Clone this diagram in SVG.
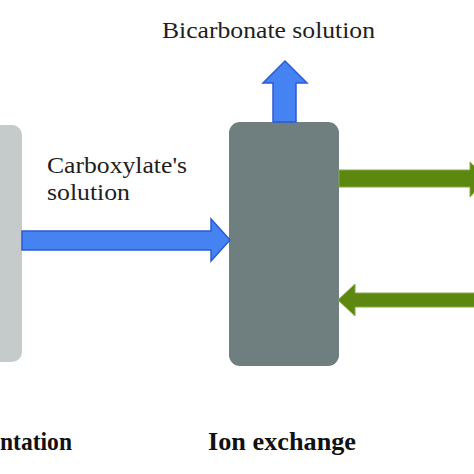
<svg xmlns="http://www.w3.org/2000/svg" width="474" height="474" viewBox="0 0 474 474">
<style>
.lbl{font-family:"Liberation Serif","Times New Roman",serif;fill:#1e1e1e;font-size:23px}
.ttl{font-family:"Liberation Serif","Times New Roman",serif;fill:#111;font-size:25px;font-weight:bold}
.blue{fill:#4683f2;stroke:#2d5ad6;stroke-width:1.5;stroke-linejoin:miter}
.green{fill:#5d880f;stroke:#86a84a;stroke-width:1}
</style>
<rect width="474" height="474" fill="#ffffff"/>
<g id="fermentation">
<rect x="-12" y="125" width="34" height="237" rx="10" fill="#c4cbca"/>
<text class="ttl" x="0" y="450" textLength="72" lengthAdjust="spacingAndGlyphs">ntation</text>
</g>
<g id="ion-exchange">
<rect x="229" y="122" width="110" height="244" rx="11" fill="#6f7f80"/>
<text class="ttl" x="208" y="450" textLength="148" lengthAdjust="spacingAndGlyphs">Ion exchange</text>
</g>
<g id="bicarbonate-label">
<text class="lbl" x="162" y="38" textLength="213" lengthAdjust="spacingAndGlyphs">Bicarbonate solution</text>
</g>
<g id="carboxylate-label">
<text class="lbl" x="47" y="173" textLength="140" lengthAdjust="spacingAndGlyphs">Carboxylate's</text>
<text class="lbl" x="47" y="200" textLength="83" lengthAdjust="spacingAndGlyphs">solution</text>
</g>
<g id="connectors">
<polygon class="blue" points="22,231 211,231 211,219 230,240 211,261 211,250 22,250"/>
<polygon class="blue" points="273,122 273,83 263,83 285,61 307,83 296,83 296,122"/>
<polygon class="green" points="339,170 470,170 470,162 486,179 470,197 470,187 339,187"/>
<polygon class="green" points="480,293 355,293 355,284 338,300 355,316 355,307 480,307"/>
</g>
</svg>
